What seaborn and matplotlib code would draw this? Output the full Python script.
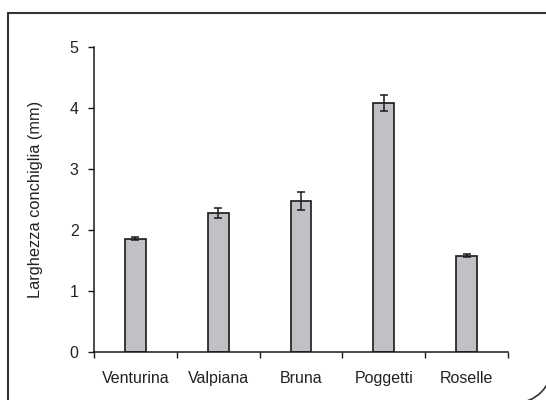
import numpy as np
import pandas as pd
import seaborn as sns
import matplotlib.pyplot as plt
from matplotlib.lines import Line2D
from matplotlib.patches import Arc

sites = ["Venturina", "Valpiana", "Bruna", "Poggetti", "Roselle"]
width_mm = [1.86, 2.28, 2.48, 4.08, 1.58]
width_err = [0.03, 0.08, 0.15, 0.13, 0.03]

sns.set_style("ticks")
plt.rcParams["font.family"] = ["Liberation Sans", "DejaVu Sans"]

df = pd.DataFrame({"site": sites, "width": width_mm, "err": width_err})

fig = plt.figure(figsize=(5.46, 4.0), dpi=100)
ax = fig.add_axes([94 / 546, 1 - 352 / 400, 414 / 546, 305 / 400])

sns.barplot(
    data=df,
    x="site",
    y="width",
    ax=ax,
    color="#c0c1c4",
    saturation=1,
    width=0.25,
    edgecolor="#1a1a1a",
    linewidth=1.2,
    errorbar=None,
)
ax.errorbar(
    np.arange(len(sites)),
    df["width"],
    yerr=df["err"],
    fmt="none",
    ecolor="#1a1a1a",
    elinewidth=1.1,
    capsize=3,
    capthick=1.1,
)

ax.set_xlim(-0.5, len(sites) - 0.5)
ax.set_ylim(0, 5)
ax.set_yticks(range(0, 6))
# category ticks sit on the boundaries between bars
ax.set_xticks(np.arange(-0.5, len(sites)), minor=False)
ax.set_xticklabels([])
ax.set_xticks(np.arange(len(sites)), minor=True)
ax.set_xticklabels(sites, minor=True)
ax.tick_params(axis="x", which="minor", length=0, pad=14, labelsize=11.5, labelcolor="#222222")
ax.tick_params(axis="x", which="major", length=4, width=1, color="#1a1a1a")
ax.tick_params(axis="y", length=4, width=1, color="#1a1a1a", pad=7, labelsize=11.5, labelcolor="#222222")

ax.set_xlabel("")
ax.set_ylabel("Larghezza conchiglia (mm)", fontsize=11.8, color="#222222")
ax.yaxis.set_label_coords(-0.124, 0.5)

for s in ["top", "right"]:
    ax.spines[s].set_visible(False)
for s in ["left", "bottom"]:
    ax.spines[s].set_color("#1a1a1a")
    ax.spines[s].set_linewidth(1.1)

# panel frame
frame_kw = dict(color="#333333", linewidth=1.5, transform=fig.transFigure)
fig.add_artist(Line2D([8 / 546, 8 / 546], [1 - 13 / 400, -0.05], **frame_kw))
fig.add_artist(Line2D([8 / 546, 1.05], [1 - 13 / 400, 1 - 13 / 400], **frame_kw))
fig.add_artist(
    Arc((515 / 546, 1 - 366 / 400), 74 / 546, 74 / 400, theta1=270, theta2=360,
        edgecolor="#333333", linewidth=1.2, transform=fig.transFigure)
)

fig.savefig("out.png", dpi=100)
